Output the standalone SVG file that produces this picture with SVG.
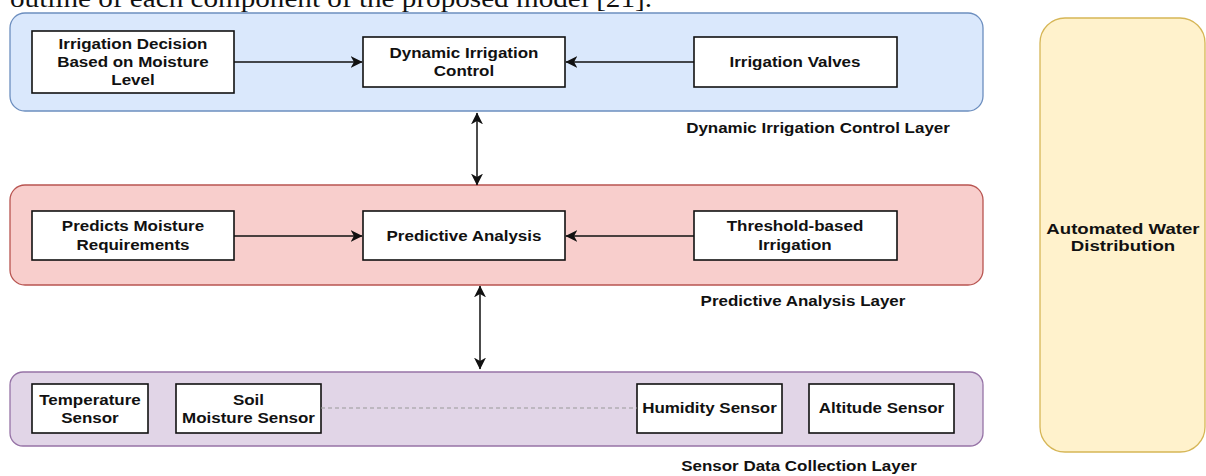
<svg xmlns="http://www.w3.org/2000/svg" width="1206" height="476" viewBox="0 0 1206 476">
<style>
.bg{fill:#ffffff}
.layer{stroke-width:1.3}
.l1{fill:#dae8fc;stroke:#6c8ebf}
.l2{fill:#f8cecc;stroke:#b85450}
.l3{fill:#e1d5e7;stroke:#9673a6}
.l4{fill:#fff2cc;stroke:#d6b656}
.box{fill:#ffffff;stroke:#111111;stroke-width:1.6}
.t{font-family:"Liberation Sans",Arial,sans-serif;font-weight:bold;font-size:14.5px;fill:#111111;text-anchor:middle;transform-box:fill-box;transform-origin:center;transform:scaleX(1.17)}
.big{font-size:15.5px;transform:scaleX(1.2)}
.hdr{font-family:"Liberation Serif","Times New Roman",serif;font-size:26px;fill:#111111}
.conn{stroke:#111111;stroke-width:1.5;fill:none}
.dash{stroke:#999999;stroke-width:1;stroke-dasharray:4 3;fill:none}
</style>
<defs>
<marker id="arr" markerUnits="userSpaceOnUse" markerWidth="12" markerHeight="12" viewBox="0 0 10 10" refX="9.5" refY="5" orient="auto-start-reverse">
<path d="M0,0 L10,5 L0,10 L2.8,5 z" fill="#111111"/>
</marker>
</defs>
<rect class="bg" x="0" y="0" width="1206" height="476"/>
<text class="hdr" x="10" y="7" textLength="642" lengthAdjust="spacingAndGlyphs">outline of each component of the proposed model [21].</text>

<g id="layer-dynamic">
<rect class="layer l1" x="10" y="13" width="973" height="98" rx="15" ry="15"/>
<text class="t" x="818" y="133">Dynamic Irrigation Control Layer</text>
</g>
<g id="layer-predictive">
<rect class="layer l2" x="10" y="185" width="973" height="100" rx="15" ry="15"/>
<text class="t" x="803" y="306">Predictive Analysis Layer</text>
</g>
<g id="layer-sensor">
<rect class="layer l3" x="10" y="372" width="973" height="74" rx="13" ry="13"/>
<text class="t" x="799" y="471">Sensor Data Collection Layer</text>
</g>
<g id="automated-water">
<rect class="layer l4" x="1040" y="18" width="165" height="434" rx="25" ry="25"/>
<text class="t big" x="1123" y="234"><tspan x="1123" y="234">Automated Water</tspan><tspan x="1123" y="251">Distribution</tspan></text>
</g>

<g id="irrigation-decision">
<rect class="box" x="32" y="31" width="202" height="62"/>
<text class="t" x="133" y="49"><tspan x="133" y="49">Irrigation Decision</tspan><tspan x="133" y="67">Based on Moisture</tspan><tspan x="133" y="85">Level</tspan></text>
</g>
<g id="dynamic-irrigation-control">
<rect class="box" x="363" y="37" width="202" height="50"/>
<text class="t" x="464" y="58"><tspan x="464" y="58">Dynamic Irrigation</tspan><tspan x="464" y="76">Control</tspan></text>
</g>
<g id="irrigation-valves">
<rect class="box" x="694" y="37" width="203" height="50"/>
<text class="t" x="795" y="67">Irrigation Valves</text>
</g>

<g id="predicts-moisture">
<rect class="box" x="32" y="211" width="202" height="49"/>
<text class="t" x="133" y="231"><tspan x="133" y="231">Predicts Moisture</tspan><tspan x="133" y="250">Requirements</tspan></text>
</g>
<g id="predictive-analysis">
<rect class="box" x="363" y="211" width="202" height="49"/>
<text class="t" x="464" y="241">Predictive Analysis</text>
</g>
<g id="threshold-irrigation">
<rect class="box" x="694" y="211" width="203" height="49"/>
<text class="t" x="795" y="231"><tspan x="795" y="231">Threshold-based</tspan><tspan x="795" y="250">Irrigation</tspan></text>
</g>

<g id="temperature-sensor">
<rect class="box" x="32" y="384" width="116" height="49"/>
<text class="t" x="90" y="405"><tspan x="90" y="405">Temperature</tspan><tspan x="90" y="423">Sensor</tspan></text>
</g>
<g id="soil-moisture-sensor">
<rect class="box" x="176" y="384" width="145" height="49"/>
<text class="t" x="248.5" y="405"><tspan x="248.5" y="405">Soil</tspan><tspan x="248.5" y="423">Moisture Sensor</tspan></text>
</g>
<g id="humidity-sensor">
<rect class="box" x="637" y="384" width="145" height="49"/>
<text class="t" x="709.5" y="413">Humidity Sensor</text>
</g>
<g id="altitude-sensor">
<rect class="box" x="809" y="384" width="145" height="49"/>
<text class="t" x="881.5" y="413">Altitude Sensor</text>
</g>

<g id="connectors">
<line class="conn" x1="234" y1="62" x2="362" y2="62" marker-end="url(#arr)"/>
<line class="conn" x1="694" y1="62" x2="566" y2="62" marker-end="url(#arr)"/>
<line class="conn" x1="234" y1="236" x2="362" y2="236" marker-end="url(#arr)"/>
<line class="conn" x1="694" y1="236" x2="566" y2="236" marker-end="url(#arr)"/>
<line class="conn" x1="477" y1="113" x2="477" y2="185" marker-start="url(#arr)" marker-end="url(#arr)"/>
<line class="conn" x1="480" y1="286" x2="480" y2="369" marker-start="url(#arr)" marker-end="url(#arr)"/>
<line class="dash" x1="321" y1="408" x2="637" y2="408"/>
</g>
</svg>
